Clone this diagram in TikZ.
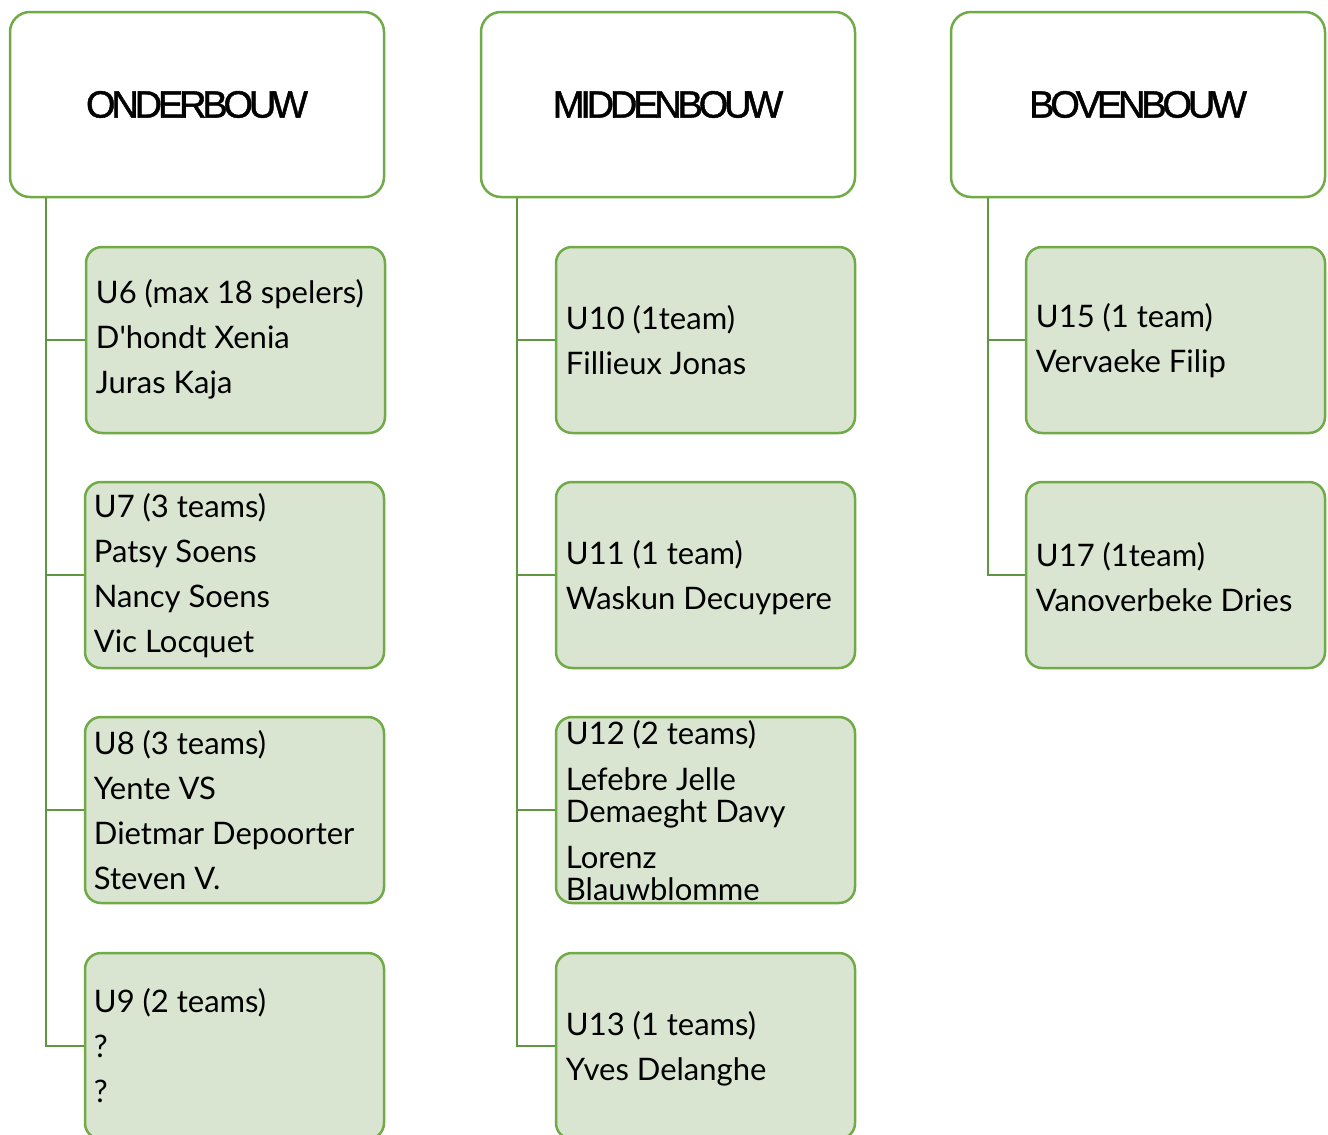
\documentclass[tikz,border=0pt]{standalone}
\usepackage{fontspec}
\setmainfont{Lato}
\newfontfamily\headfont[LetterSpace=-11,FakeBold=1.2]{Liberation Sans}
\definecolor{bordergreen}{HTML}{70AB48}
\definecolor{conngreen}{HTML}{5F9640}
\definecolor{childfill}{HTML}{D9E4D1}
\begin{document}
\begin{tikzpicture}[x=1pt,y=-1pt,
  headbox/.style={draw=bordergreen, line width=2.5pt, rounded corners=20pt, fill=white,
    minimum width=374pt, minimum height=185pt, inner sep=0pt,
    font=\headfont\fontsize{38}{40}\selectfont},
  childbox/.style={draw=bordergreen, line width=2.5pt, rounded corners=16pt, fill=childfill,
    minimum width=299pt, minimum height=186pt, inner sep=0pt},
  txt/.style={anchor=west, align=left, inner sep=0pt, font=\fontsize{31}{45}\selectfont},
  conn/.style={draw=conngreen, line width=2.6pt}]
\useasboundingbox (0,0) rectangle (1328,1135);

% headers
\node[headbox] (oh) at (197,104.5) {ONDERBOUW};
\node[headbox] (mh) at (668,104.5) {MIDDENBOUW};
\node[headbox] (bh) at (1138,104.5) {BOVENBOUW};

% connector starting points
\coordinate (c1) at (46,198);
\coordinate (c2) at (517,198);
\coordinate (c3) at (988,198);

% children column 1
\node[childbox] (u6) at (235.5,340) {};
\node[childbox] (u7) at (234.5,575) {};
\node[childbox] (u8) at (234.5,810) {};
\node[childbox] (u9) at (234.5,1046) {};
% column 2
\node[childbox] (u10) at (705.5,340) {};
\node[childbox] (u11) at (705.5,575) {};
\node[childbox] (u12) at (705.5,810) {};
\node[childbox] (u13) at (705.5,1046) {};
% column 3
\node[childbox] (u15) at (1175.5,340) {};
\node[childbox] (u17) at (1175.5,575) {};

% connectors
\draw[conn] (c1) |- (u9.west);
\draw[conn] (u6.west) -- (u6.west -| c1);
\draw[conn] (u7.west) -- (u7.west -| c1);
\draw[conn] (u8.west) -- (u8.west -| c1);
\draw[conn] (c2) |- (u13.west);
\draw[conn] (u10.west) -- (u10.west -| c2);
\draw[conn] (u11.west) -- (u11.west -| c2);
\draw[conn] (u12.west) -- (u12.west -| c2);
\draw[conn] (c3) |- (u17.west);
\draw[conn] (u15.west) -- (u15.west -| c3);

% texts
\node[txt] (t6) at ([xshift=11pt,yshift=1pt]u6.west) {U6 (max 18 spelers)\\D\textquotesingle hondt Xenia\\Juras Kaja};
\node[txt] (t7) at ([xshift=10pt,yshift=-0.5pt]u7.west) {U7 (3 teams)\\Patsy Soens\\Nancy Soens\\Vic Locquet};
\node[txt] (t8) at ([xshift=10pt,yshift=-0.5pt]u8.west) {U8 (3 teams)\\Yente VS\\Dietmar Depoorter\\Steven V.};
\node[txt] (t9) at ([xshift=10pt,yshift=0pt]u9.west) {U9 (2 teams)\\?\\?};
\node[txt] (t10) at ([xshift=11pt,yshift=-0.5pt]u10.west) {U10 (1team)\\Fillieux Jonas};
\node[txt] (t11) at ([xshift=11pt,yshift=-2.5pt]u11.west) {U11 (1 team)\\Waskun Decuypere};
\node[txt, font=\fontsize{31}{32}\selectfont] (t12) at ([xshift=11pt,yshift=-1pt]u12.west)
  {U12 (2 teams)\\[14pt]Lefebre Jelle\\Demaeght Davy\\[14pt]Lorenz\\Blauwblomme};
\node[txt] (t13) at ([xshift=11pt,yshift=-2.5pt]u13.west) {U13 (1 teams)\\Yves Delanghe};
\node[txt] (t15) at ([xshift=11pt,yshift=-0.5pt]u15.west) {U15 (1 team)\\Vervaeke Filip};
\node[txt] (t17) at ([xshift=11pt,yshift=-2.5pt]u17.west) {U17 (1team)\\Vanoverbeke Dries};
\end{tikzpicture}
\end{document}
